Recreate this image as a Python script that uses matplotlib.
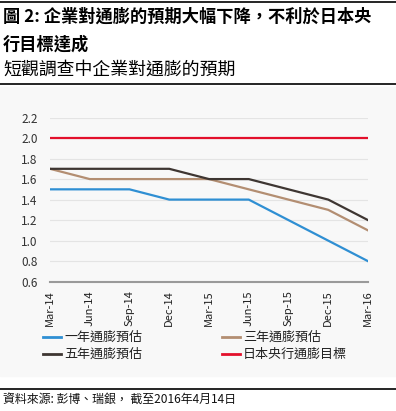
import numpy as np
import matplotlib
matplotlib.use("Agg")
import matplotlib.pyplot as plt
from matplotlib.lines import Line2D
from matplotlib.patches import Rectangle

plt.rcParams['font.family'] = ['Noto Sans CJK TC', 'DejaVu Sans']

# data
quarters = ["Mar-14", "Jun-14", "Sep-14", "Dec-14", "Mar-15",
            "Jun-15", "Sep-15", "Dec-15", "Mar-16"]
one_year = [1.5, 1.5, 1.5, 1.4, 1.4, 1.4, 1.2, 1.0, 0.8]
three_year = [1.7, 1.6, 1.6, 1.6, 1.6, 1.5, 1.4, 1.3, 1.1]
five_year = [1.7, 1.7, 1.7, 1.7, 1.6, 1.6, 1.5, 1.4, 1.2]
boj_target = [2.0] * len(quarters)
y_ticks = [0.6, 0.8, 1.0, 1.2, 1.4, 1.6, 1.8, 2.0, 2.2]

series_labels = ["一年通膨預估", "三年通膨預估", "五年通膨預估", "日本央行通膨目標"]
series_colors = ["#2f8fd3", "#b38e72", "#3e3632", "#e3102b"]

W, H = 396, 411
fig = plt.figure(figsize=(W / 100, H / 100), dpi=100)


def fx(px):
    return px / W


def fy(py):
    return 1 - py / H


# header / footer rules
for py, lw in [(2, 1.2), (84, 1.2), (389, 1.2)]:
    fig.add_artist(Line2D([0, 1], [fy(py), fy(py)], color="black", lw=lw))

fig.text(fx(3), fy(17), "圖 2: 企業對通膨的預期大幅下降，不利於日本央",
         fontsize=12.4, fontweight="bold", va="center", ha="left")
fig.text(fx(3), fy(45), "行目標達成", fontsize=12.4, fontweight="bold",
         va="center", ha="left")
fig.text(fx(3), fy(70), "短觀調查中企業對通膨的預期", fontsize=12.9,
         va="center", ha="left")
fig.text(fx(3), fy(400), "資料來源: 彭博、瑞銀， 截至2016年4月14日",
         fontsize=8.6, va="center", ha="left", color="#111111")

# light panel behind the chart
fig.add_artist(Rectangle((0, fy(376)), 1, fy(87) - fy(376),
                         transform=fig.transFigure, color="#f8f8f8", zorder=0))

ax = fig.add_axes([fx(50), fy(281.7), fx(368) - fx(50), fy(117.5) - fy(281.7)])
ax.set_facecolor("none")
x = np.arange(len(quarters))

ax.plot(x, one_year, color=series_colors[0], lw=1.6)
ax.plot(x, three_year, color=series_colors[1], lw=1.6)
ax.plot(x, five_year, color=series_colors[2], lw=1.6)
ax.plot(x, boj_target, color=series_colors[3], lw=1.6)

ax.set_xlim(0, len(quarters) - 1)
ax.set_ylim(0.6, 2.2)
ax.set_yticks(y_ticks)
ax.set_yticklabels([f"{v:.1f}" for v in y_ticks], fontsize=8.5, color="#333333")
ax.set_xticks(x)
ax.set_xticklabels(quarters, rotation=90, fontsize=8, color="#222222")
ax.tick_params(length=0, pad=6)
ax.tick_params(axis="y", pad=9)
ax.grid(axis="y", color="#e4e4e4", lw=0.8)
ax.set_axisbelow(True)
for s in ["top", "right", "left"]:
    ax.spines[s].set_visible(False)
ax.spines["bottom"].set_color("#9a9a9a")
ax.spines["bottom"].set_linewidth(1.5)

# legend, drawn by hand in two columns
legend_pos = [(43, 337), (222, 337), (43, 354), (222, 354)]
for (px, py), lab, col in zip(legend_pos, series_labels, series_colors):
    fig.add_artist(Line2D([fx(px), fx(px + 18)], [fy(py), fy(py)],
                          color=col, lw=2))
    fig.text(fx(px + 21), fy(py), lab, fontsize=9.4, va="center",
             ha="left", color="#222222")

fig.savefig("out.png", dpi=100)
